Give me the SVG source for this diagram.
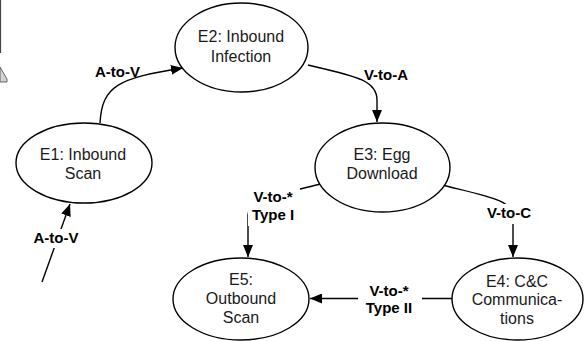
<svg xmlns="http://www.w3.org/2000/svg" width="587" height="341" viewBox="0 0 587 341">
<style>
.node{fill:#fff;stroke:#000;stroke-width:1.4}
.nt{font-family:"Liberation Sans",Arial,sans-serif;font-size:16px;fill:#1a1a1a;text-anchor:middle}
.edge{fill:none;stroke:#000;stroke-width:1.4}
.lbl{font-family:"Liberation Sans",Arial,sans-serif;font-size:15px;font-weight:bold;fill:#000;text-anchor:middle}
.bg{fill:#fff}
</style>
<defs>
<marker id="arr" markerUnits="userSpaceOnUse" viewBox="0 0 12 10" refX="12" refY="5" markerWidth="12" markerHeight="10" orient="auto">
<path d="M0,0 L12,5 L0,10 z" fill="#000"/>
</marker>
</defs>
<rect width="587" height="341" fill="#fff"/>
<g id="fragment">
<line x1="0.5" y1="0" x2="0.5" y2="53" stroke="#444" stroke-width="1.2"/>
<polygon points="0,67 7,79 7,82 0,82" fill="#d2d2d2" stroke="#666" stroke-width="1"/>
</g>
<g id="connectors">
<path class="edge" d="M100,123 C102,86 118,78 183,68" marker-end="url(#arr)"/>
<path class="edge" d="M308,65 C355,76 377,80 377,100 L377,122" marker-end="url(#arr)"/>
<path class="edge" d="M42,282 L70,204" marker-end="url(#arr)"/>
<path class="edge" d="M320,184 C290,192 248,200 248,215 L248,257" marker-end="url(#arr)"/>
<path class="edge" d="M442,185 C490,197 513,200 513,218 L513,257" marker-end="url(#arr)"/>
<path class="edge" d="M452,298.5 L310,298.5" marker-end="url(#arr)"/>
<g id="labels">
<text class="lbl" x="117.5" y="77">A-to-V</text>
<text class="lbl" x="386" y="80">V-to-A</text>
<rect class="bg" x="28" y="229" width="56" height="19"/>
<text class="lbl" x="56" y="243">A-to-V</text>
<rect class="bg" x="248" y="186" width="52" height="40"/>
<text class="lbl" x="273" y="202">V-to-*</text>
<text class="lbl" x="273" y="220">Type I</text>
<rect class="bg" x="480" y="204" width="58" height="20"/>
<text class="lbl" x="509" y="218">V-to-C</text>
<rect class="bg" x="358" y="280" width="64" height="38"/>
<text class="lbl" x="389" y="296">V-to-*</text>
<text class="lbl" x="389" y="313">Type II</text>
</g>
</g>
<g id="E1">
<ellipse class="node" cx="84" cy="163" rx="68" ry="40"/>
<text class="nt" x="83" y="160">E1: Inbound</text>
<text class="nt" x="83" y="179">Scan</text>
</g>
<g id="E2">
<ellipse class="node" cx="241.5" cy="47.5" rx="66.5" ry="44.5"/>
<text class="nt" x="241" y="42">E2: Inbound</text>
<text class="nt" x="241" y="62">Infection</text>
</g>
<g id="E3">
<ellipse class="node" cx="382.5" cy="167.5" rx="67.5" ry="44.5"/>
<text class="nt" x="382" y="160">E3: Egg</text>
<text class="nt" x="382" y="179">Download</text>
</g>
<g id="E4">
<ellipse class="node" cx="517.5" cy="299" rx="65.5" ry="41"/>
<text class="nt" x="517" y="287">E4: C&amp;C</text>
<text class="nt" x="517" y="305">Communica-</text>
<text class="nt" x="517" y="324">tions</text>
</g>
<g id="E5">
<ellipse class="node" cx="241" cy="299" rx="68" ry="41"/>
<text class="nt" x="241" y="285">E5:</text>
<text class="nt" x="241" y="304">Outbound</text>
<text class="nt" x="241" y="323">Scan</text>
</g>
</svg>
